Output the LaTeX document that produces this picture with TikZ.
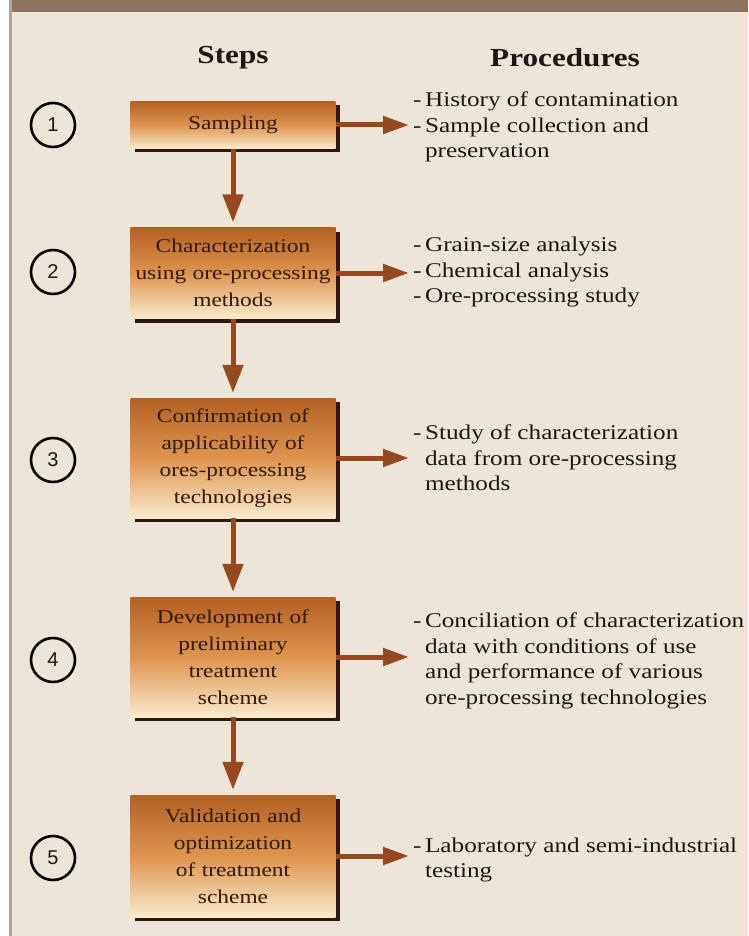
\documentclass[tikz,border=0pt]{standalone}
\usepackage{fontspec}
\setmainfont[FakeStretch=1.2]{Liberation Serif}
\newfontfamily\numfont{Liberation Sans}
\usetikzlibrary{arrows.meta,calc,shadows}
\definecolor{bg}{RGB}{237,229,216}
\definecolor{band}{RGB}{140,116,96}
\definecolor{edgegray}{RGB}{170,165,158}
\definecolor{arrowc}{RGB}{150,72,30}
\definecolor{boxtop}{RGB}{180,96,36}
\definecolor{boxmid}{RGB}{222,148,78}
\definecolor{boxbot}{RGB}{250,234,204}
\definecolor{shadowc}{RGB}{45,25,15}
\definecolor{txt}{RGB}{30,22,18}
\definecolor{boxtxt}{RGB}{48,26,12}
\tikzset{
  stepbox/.style={rectangle, minimum width=205pt, text width=205pt, align=center,
    top color=boxtop, bottom color=boxbot, middle color=boxmid,
    font=\fontsize{19.5}{27}\selectfont, text=boxtxt, inner sep=0pt,
    drop shadow={shadow xshift=4pt, shadow yshift=-4pt, opacity=1, fill=shadowc}},
  numcirc/.style={circle, draw=black, line width=2.6pt, minimum size=44pt, inner sep=0pt,
    font=\numfont\fontsize{20}{20}\selectfont, text=txt},
  proc/.style={anchor=west, inner sep=0pt, font=\fontsize{21}{25.5}\selectfont, text=txt},
  heading/.style={font=\fontsize{26}{26}\selectfont\bfseries, text=txt},
  varrow/.style={draw=arrowc, line width=5pt, -{Triangle[length=28pt,width=20pt]}, shorten >=5pt},
  harrow/.style={draw=arrowc, line width=5pt, -{Triangle[length=26pt,width=17pt]}, shorten >=4pt},
}
\begin{document}
\begin{tikzpicture}[x=1pt,y=-1pt]
\useasboundingbox (0,0) rectangle (748,936);
\fill[white] (0,0) rectangle (748,936);
\fill[bg] (10,0) rectangle (748,936);
\fill[band] (10,0) rectangle (748,12);
\draw[edgegray, line width=2.5pt] (10.5,0) -- (10.5,936);

\node[heading] (hs) at (233,58) {Steps};
\node[heading] (hp) at (565,58) {Procedures};

\node[stepbox, minimum height=47] (s1) at (233,125) {Sampling};
\node[stepbox, minimum height=91] (s2) at (233,273) {Characterization\\using ore-processing\\methods};
\node[stepbox, minimum height=120] (s3) at (233,458) {Confirmation of\\applicability of\\ores-processing\\technologies};
\node[stepbox, minimum height=120] (s4) at (233,657) {Development of\\preliminary\\treatment\\scheme};
\node[stepbox, minimum height=122] (s5) at (233,856) {Validation and\\optimization\\of treatment\\scheme};

\node[numcirc] (n1) at (53,125) {1};
\node[numcirc] (n2) at (53,272) {2};
\node[numcirc] (n3) at (53,460) {3};
\node[numcirc] (n4) at (53,660) {4};
\node[numcirc] (n5) at (53,858) {5};

\node[proc] (p1) at (413,127) {\begin{tabular}{@{}l@{\,}l@{}}- & History of contamination\\- & Sample collection and\\ & preservation\end{tabular}};
\node[proc] (p2) at (413,272) {\begin{tabular}{@{}l@{\,}l@{}}- & Grain-size analysis\\- & Chemical analysis\\- & Ore-processing study\end{tabular}};
\node[proc] (p3) at (413,460) {\begin{tabular}{@{}l@{\,}l@{}}- & Study of characterization\\ & data from ore-processing\\ & methods\end{tabular}};
\node[proc] (p4) at (413,661) {\begin{tabular}{@{}l@{\,}l@{}}- & Conciliation of characterization\\ & data with conditions of use\\ & and performance of various\\ & ore-processing technologies\end{tabular}};
\node[proc] (p5) at (413,860) {\begin{tabular}{@{}l@{\,}l@{}}- & Laboratory and semi-industrial\\ & testing\end{tabular}};

\draw[varrow] (s1) -- (s2);
\draw[varrow] (s2) -- (s3);
\draw[varrow] (s3) -- (s4);
\draw[varrow] (s4) -- (s5);

\draw[harrow] (s1.east) -- (s1.east -| p1.west);
\draw[harrow] (s2.east) -- (s2.east -| p2.west);
\draw[harrow] (s3.east) -- (s3.east -| p3.west);
\draw[harrow] (s4.east) -- (s4.east -| p4.west);
\draw[harrow] (s5.east) -- (s5.east -| p5.west);
\end{tikzpicture}
\end{document}
